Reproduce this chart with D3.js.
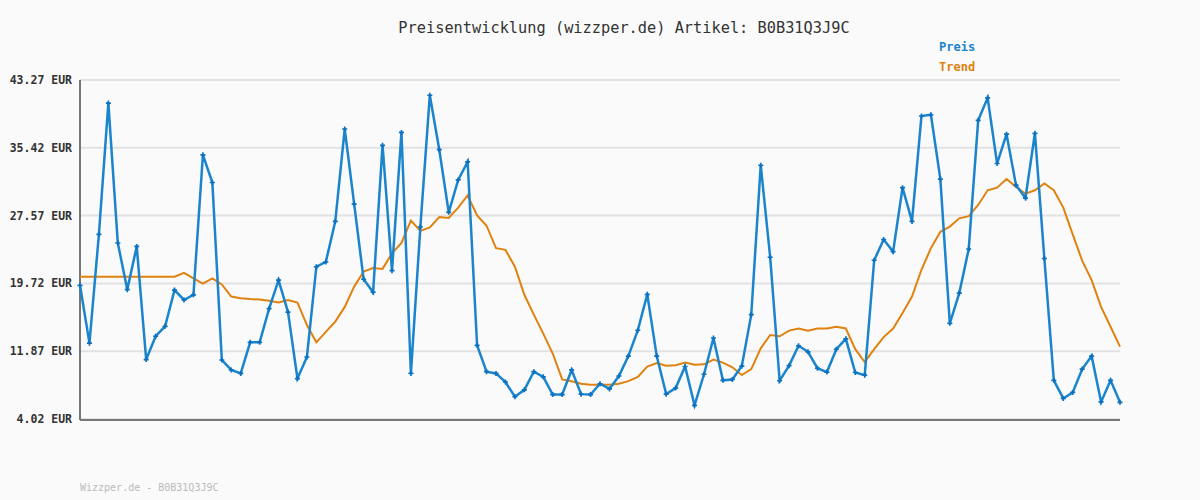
<!DOCTYPE html>
<html><head><meta charset="utf-8">
<script src="https://cdn.jsdelivr.net/npm/d3@7"></script>
<style>body{margin:0;background:#fafafa}svg{display:block}text{font-family:"DejaVu Sans Mono",monospace}</style>
</head><body><svg id="c" width="1200" height="500"></svg>
<script>
const preis=[19.5,12.8,25.4,40.6,24.4,19.0,24.0,10.9,13.6,14.75,18.95,17.8,18.4,34.6,31.4,10.85,9.7,9.3,12.9,12.9,16.8,20.1,16.4,8.7,11.2,21.65,22.2,26.9,37.6,28.9,20.2,18.7,35.7,21.2,37.2,9.3,26.25,41.5,35.2,27.95,31.7,33.8,12.55,9.5,9.3,8.3,6.6,7.4,9.5,8.9,6.85,6.85,9.7,6.9,6.85,8.1,7.5,9.0,11.3,14.3,18.45,11.3,6.9,7.6,10.1,5.6,9.2,13.4,8.5,8.6,10.15,16.1,33.4,22.75,8.45,10.2,12.5,11.8,9.9,9.45,12.1,13.3,9.4,9.1,22.4,24.8,23.4,30.8,26.9,39.1,39.25,31.8,15.1,18.6,23.7,38.6,41.2,33.6,37.0,31.1,29.6,37.1,22.6,8.5,6.4,7.1,9.8,11.3,6.0,8.5,5.95];
const trend=[20.5,20.5,20.5,20.5,20.5,20.5,20.5,20.5,20.5,20.5,20.5,20.95,20.3,19.7,20.3,19.6,18.2,18.0,17.9,17.85,17.7,17.5,17.8,17.5,14.9,12.9,14.1,15.3,17.0,19.35,21.1,21.5,21.4,23.2,24.4,27.0,25.8,26.2,27.4,27.3,28.5,29.9,27.6,26.4,23.8,23.6,21.65,18.4,16.1,13.9,11.6,8.6,8.4,8.1,8.0,8.0,8.0,8.1,8.4,8.9,10.1,10.5,10.2,10.25,10.55,10.3,10.35,10.9,10.55,10.0,9.1,9.8,12.2,13.75,13.6,14.25,14.5,14.25,14.5,14.5,14.7,14.5,12.1,10.6,12.1,13.5,14.5,16.3,18.2,21.3,23.8,25.7,26.3,27.25,27.5,28.8,30.5,30.8,31.8,30.9,30.1,30.5,31.3,30.5,28.5,25.4,22.35,20.1,17.0,14.7,12.4];
const ticks=[4.02,11.87,19.72,27.57,35.42,43.27];
const svg=d3.select("#c");
const x=d3.scaleLinear().domain([0,preis.length-1]).range([80,1120]);
const y=d3.scaleLinear().domain([4.02,43.27]).range([419,80]);
svg.append("g").selectAll("line").data(ticks).join("line").attr("x1",80).attr("x2",1120).attr("y1",d=>y(d)).attr("y2",d=>y(d)).attr("stroke","#e2e2e2").attr("stroke-width",2);
svg.append("g").selectAll("text").data(ticks).join("text").attr("x",72).attr("y",d=>y(d)+4).attr("text-anchor","end").attr("font-size",11.5).attr("font-weight","bold").attr("fill","#333").text(d=>d.toFixed(2)+" EUR");
svg.append("line").attr("x1",80).attr("x2",80).attr("y1",80).attr("y2",420).attr("stroke","#777").attr("stroke-width",2);
svg.append("line").attr("x1",80).attr("x2",1120).attr("y1",420).attr("y2",420).attr("stroke","#777").attr("stroke-width",2);
const line=d3.line().x((d,i)=>x(i)).y(d=>y(d));
svg.append("path").datum(trend).attr("d",line).attr("fill","none").attr("stroke","#e0820f").attr("stroke-width",2);
svg.append("path").datum(preis).attr("d",line).attr("fill","none").attr("stroke","#1a84cc").attr("stroke-width",2.5);
svg.append("g").selectAll("path").data(preis).join("path").attr("d",d3.symbol(d3.symbolCross,14)).attr("transform",(d,i)=>`translate(${x(i)},${y(d)})`).attr("fill","#0a70c0");
svg.append("text").attr("x",624).attr("y",33).attr("text-anchor","middle").attr("font-size",15.3).attr("fill","#333").text("Preisentwicklung (wizzper.de) Artikel: B0B31Q3J9C");
svg.append("text").attr("x",939).attr("y",51).attr("font-size",12).attr("font-weight","bold").attr("fill","#1a84cc").text("Preis");
svg.append("text").attr("x",939).attr("y",71).attr("font-size",12).attr("font-weight","bold").attr("fill","#e0820f").text("Trend");
svg.append("text").attr("x",80).attr("y",491).attr("font-size",10).attr("fill","#bbb").text("Wizzper.de - B0B31Q3J9C");
</script></body></html>
